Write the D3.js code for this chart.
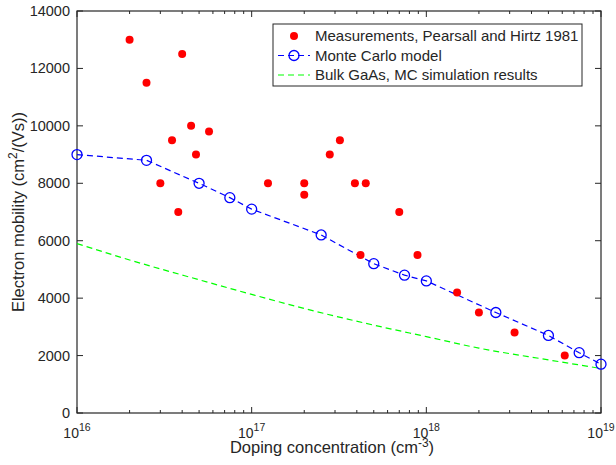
<!DOCTYPE html>
<html>
<head>
<meta charset="utf-8">
<script src="https://cdn.jsdelivr.net/npm/d3@7"></script>
<style>
  body { margin: 0; background: #fff; }
  text { font-family: "Liberation Sans", Arial, sans-serif; fill: #262626; }
</style>
</head>
<body>
<div id="chart-area"></div>
<script>
// Measurements, Pearsall and Hirtz 1981
var measDoping = [2e16, 2.5e16, 3e16, 3.5e16, 3.8e16, 4e16, 4.5e16, 4.8e16, 5.7e16,
    1.24e17, 2e17, 2e17, 2.8e17, 3.2e17, 3.9e17, 4.2e17, 4.5e17, 7e17, 8.9e17,
    1.5e18, 2e18, 3.2e18, 6.2e18];
var measMobility = [13000, 11500, 8000, 9500, 7000, 12500, 10000, 9000, 9800,
    8000, 8000, 7600, 9000, 9500, 8000, 5500, 8000, 7000, 5500,
    4200, 3500, 2800, 2000];

// Monte Carlo model
var mcDoping = [1e16, 2.5e16, 5e16, 7.5e16, 1e17, 2.5e17, 5e17, 7.5e17, 1e18, 2.5e18, 5e18, 7.5e18, 1e19];
var mcMobility = [9000, 8800, 8000, 7500, 7100, 6200, 5200, 4800, 4600, 3500, 2700, 2100, 1700];

// Bulk GaAs, MC simulation results
var bulkDoping = [1e16, 2e16, 5e16, 1e17, 2e17, 5e17, 1e18, 2e18, 5e18, 1e19];
var bulkMobility = [5900, 5330, 4640, 4130, 3640, 3060, 2660, 2260, 1850, 1550];

var yTicks = [0, 2000, 4000, 6000, 8000, 10000, 12000, 14000];
var xExponents = [16, 17, 18, 19];
var legendLabels = ["Measurements, Pearsall and Hirtz 1981", "Monte Carlo model", "Bulk GaAs, MC simulation results"];

var width = 616, height = 465;
var margin = {left: 77, right: 15, top: 11, bottom: 52};
var axisColor = "#262626";

var svg = d3.select("#chart-area")
    .append("svg")
    .attr("width", width)
    .attr("height", height);

// SCALES
var x = d3.scaleLog()
    .domain([1e16, 1e19])
    .range([margin.left, width - margin.right]);

var y = d3.scaleLinear()
    .domain([0, 14000])
    .range([height - margin.bottom, margin.top]);

var x0 = x.range()[0], x1 = x.range()[1];
var y0 = y.range()[0], y1 = y.range()[1];

// ticks (inside, on all four sides)
var minor = [];
for (var e = 16; e < 19; e++) {
    for (var m = 2; m <= 9; m++) minor.push(m * Math.pow(10, e));
}
var ticks = svg.append("g").attr("stroke", axisColor).attr("stroke-width", 1);
minor.forEach(function (v) {
    ticks.append("line").attr("x1", x(v)).attr("x2", x(v)).attr("y1", y0).attr("y2", y0 - 3);
    ticks.append("line").attr("x1", x(v)).attr("x2", x(v)).attr("y1", y1).attr("y2", y1 + 3);
});
xExponents.forEach(function (e) {
    var v = Math.pow(10, e);
    ticks.append("line").attr("x1", x(v)).attr("x2", x(v)).attr("y1", y0).attr("y2", y0 - 6);
    ticks.append("line").attr("x1", x(v)).attr("x2", x(v)).attr("y1", y1).attr("y2", y1 + 6);
});
yTicks.forEach(function (v) {
    ticks.append("line").attr("x1", x0).attr("x2", x0 + 6).attr("y1", y(v)).attr("y2", y(v));
    ticks.append("line").attr("x1", x1).attr("x2", x1 - 6).attr("y1", y(v)).attr("y2", y(v));
});

// box
svg.append("rect")
    .attr("x", x0).attr("y", y1)
    .attr("width", x1 - x0).attr("height", y0 - y1)
    .attr("fill", "none")
    .attr("stroke", axisColor)
    .attr("stroke-width", 1.2);

// tick labels
svg.selectAll(".ylab")
    .data(yTicks)
    .enter()
    .append("text")
    .attr("x", x0 - 7)
    .attr("y", function (d) { return y(d) + 5; })
    .attr("text-anchor", "end")
    .attr("font-size", 14.5)
    .text(function (d) { return d; });

xExponents.forEach(function (e) {
    var t = svg.append("text")
        .attr("x", x(Math.pow(10, e)))
        .attr("y", 437.5)
        .attr("text-anchor", "middle")
        .attr("font-size", 14);
    t.append("tspan").text("10");
    t.append("tspan").attr("dy", -7).attr("font-size", 10.5).text(e);
});

// axis titles
var xt = svg.append("text")
    .attr("x", 332)
    .attr("y", 452.5)
    .attr("text-anchor", "middle")
    .attr("font-size", 16.5);
xt.append("tspan").text("Doping concentration (cm");
xt.append("tspan").attr("dy", -6).attr("font-size", 12).text("-3");
xt.append("tspan").attr("dy", 6).text(")");

var yt = svg.append("text")
    .attr("transform", "translate(24," + ((y0 + y1) / 2) + ") rotate(-90)")
    .attr("text-anchor", "middle")
    .attr("font-size", 16.5);
yt.append("tspan").text("Electron mobility (cm");
yt.append("tspan").attr("dy", -7).attr("font-size", 12).text("2");
yt.append("tspan").attr("dy", 7).text("/(Vs))");

// lines
var line = d3.line()
    .x(function (d) { return x(d[0]); })
    .y(function (d) { return y(d[1]); });

svg.append("path")
    .datum(d3.zip(bulkDoping, bulkMobility))
    .attr("d", line.curve(d3.curveMonotoneX))
    .attr("fill", "none")
    .attr("stroke", "#00ff00")
    .attr("stroke-width", 1.2)
    .attr("stroke-dasharray", "6,4");

svg.append("path")
    .datum(d3.zip(mcDoping, mcMobility))
    .attr("d", line.curve(d3.curveLinear))
    .attr("fill", "none")
    .attr("stroke", "#0000ff")
    .attr("stroke-width", 1.2)
    .attr("stroke-dasharray", "6,4");

svg.selectAll(".mc")
    .data(d3.zip(mcDoping, mcMobility))
    .enter()
    .append("circle")
    .attr("cx", function (d) { return x(d[0]); })
    .attr("cy", function (d) { return y(d[1]); })
    .attr("r", 5)
    .attr("fill", "none")
    .attr("stroke", "#0000ff")
    .attr("stroke-width", 1.3);

svg.selectAll(".meas")
    .data(d3.zip(measDoping, measMobility))
    .enter()
    .append("circle")
    .attr("cx", function (d) { return x(d[0]); })
    .attr("cy", function (d) { return y(d[1]); })
    .attr("r", 4)
    .attr("fill", "#ff0000");

// legend
var lg = svg.append("g");
lg.append("rect")
    .attr("x", 273).attr("y", 24)
    .attr("width", 309).attr("height", 62)
    .attr("fill", "#fff")
    .attr("stroke", axisColor)
    .attr("stroke-width", 1);
legendLabels.forEach(function (label, i) {
    var ly = 36 + i * 19.5;
    if (i === 0) {
        lg.append("circle").attr("cx", 294).attr("cy", ly).attr("r", 4).attr("fill", "#ff0000");
    } else {
        lg.append("line")
            .attr("x1", 278).attr("x2", 310).attr("y1", ly).attr("y2", ly)
            .attr("stroke", i === 1 ? "#0000ff" : "#00ff00")
            .attr("stroke-width", 1.2)
            .attr("stroke-dasharray", "6,4");
        if (i === 1) {
            lg.append("circle").attr("cx", 294).attr("cy", ly).attr("r", 5)
                .attr("fill", "none").attr("stroke", "#0000ff").attr("stroke-width", 1.3);
        }
    }
    lg.append("text")
        .attr("x", 315).attr("y", ly + 5)
        .attr("font-size", 15)
        .text(label);
});
</script>
</body>
</html>
